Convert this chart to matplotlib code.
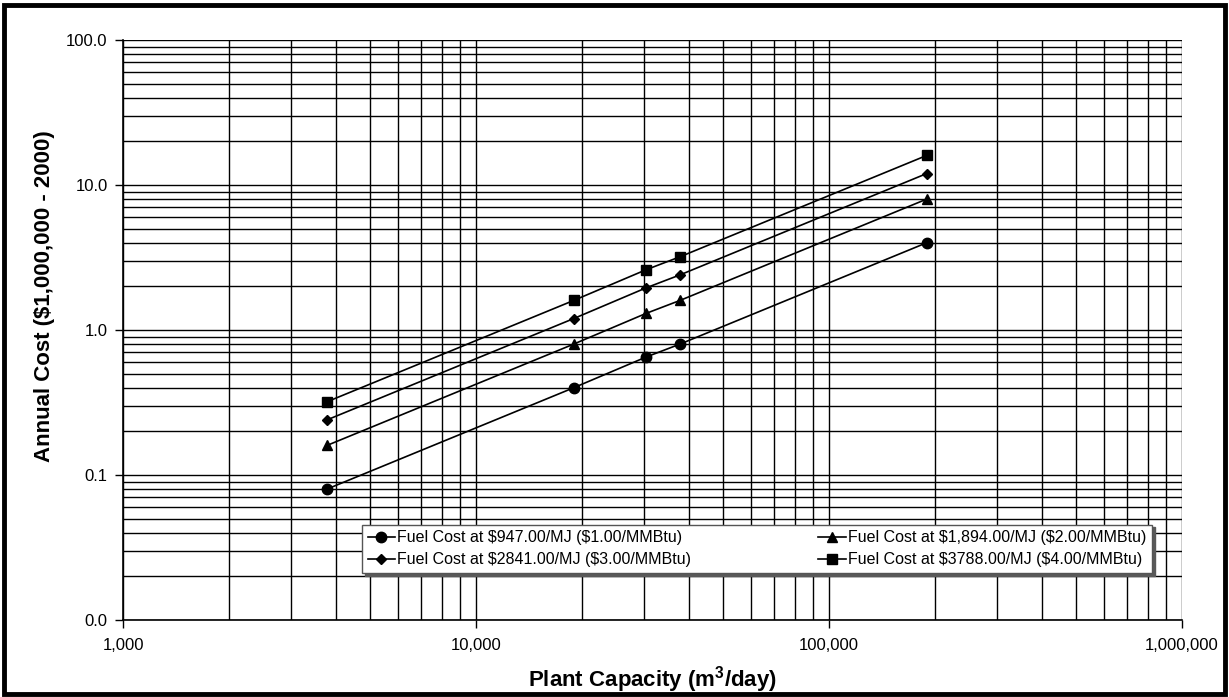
import numpy as np
import matplotlib.pyplot as plt
from matplotlib.patches import Rectangle
from matplotlib.ticker import FuncFormatter, LogLocator, NullFormatter

plt.rcParams['font.family'] = ['Liberation Sans', 'DejaVu Sans']
plt.rcParams['mathtext.fontset'] = 'custom'
plt.rcParams['mathtext.rm'] = 'Liberation Sans'
plt.rcParams['mathtext.bf'] = 'Liberation Sans:bold'

# plant capacity, m3/day (1, 5, 8, 10, 50 MGD)
capacity = [3785, 18927, 30283, 37854, 189271]

# annual cost, $ millions
cost_1 = [0.08, 0.40, 0.65, 0.80, 4.0]
cost_2 = [0.16, 0.80, 1.30, 1.60, 8.0]
cost_3 = [0.24, 1.20, 1.95, 2.40, 12.0]
cost_4 = [0.32, 1.60, 2.60, 3.20, 16.0]

labels = [r"Fuel Cost at \$947.00/MJ (\$1.00/MMBtu)",
          r"Fuel Cost at \$1,894.00/MJ (\$2.00/MMBtu)",
          r"Fuel Cost at \$2841.00/MJ (\$3.00/MMBtu)",
          r"Fuel Cost at \$3788.00/MJ (\$4.00/MMBtu)"]

fig = plt.figure(figsize=(12.29, 6.97), dpi=100)
ax = fig.add_axes([123 / 1229, 1 - 620 / 697, (1182 - 123) / 1229, 580 / 697])

h1, = ax.plot(capacity, cost_1, 'k-', marker='o', ms=7.5, lw=1.2)
h2, = ax.plot(capacity, cost_2, 'k-', marker='^', ms=7, lw=1.2)
h3, = ax.plot(capacity, cost_3, 'k-', marker='D', ms=5, lw=1.2)
h4, = ax.plot(capacity, cost_4, 'k-', marker='s', ms=7, lw=1.2)

ax.set_xscale('log')
ax.set_yscale('log')
ax.set_xlim(1000, 1000000)
ax.set_ylim(0.01, 100)

ax.xaxis.set_major_locator(LogLocator(base=10))
ax.yaxis.set_major_locator(LogLocator(base=10))
ax.xaxis.set_minor_locator(LogLocator(base=10, subs=np.arange(2, 10)))
ax.yaxis.set_minor_locator(LogLocator(base=10, subs=np.arange(2, 10)))
ax.xaxis.set_minor_formatter(NullFormatter())
ax.yaxis.set_minor_formatter(NullFormatter())
ax.xaxis.set_major_formatter(FuncFormatter(lambda v, p: f"{v:,.0f}"))
ax.yaxis.set_major_formatter(FuncFormatter(lambda v, p: f"{v:.1f}"))

ax.grid(True, which='both', color='black', lw=1.0)
ax.set_axisbelow(True)
ax.tick_params(which='minor', length=0)
ax.tick_params(which='major', length=6, width=1, labelsize=12, color='black')
ax.tick_params(axis='x', which='major', pad=7)
ax.tick_params(axis='y', which='major', pad=5)

for s in ['top', 'right']:
    ax.spines[s].set_visible(False)
for s in ['left', 'bottom']:
    ax.spines[s].set_linewidth(1.2)

ax.set_xlabel(r"Plant Capacity (m$^{\mathbf{3}}$/day)", fontsize=16, fontweight='bold', labelpad=8)
ax.set_ylabel(r"Annual Cost (\$1,000,000 - 2000)", fontsize=16, fontweight='bold')
ax.yaxis.set_label_coords(-0.064, 0.559)

# legend box spans roughly x 362..1152 px, y 519..573 px
lx0 = (362 - 123) / 1059
lw_ = (1152 - 362) / 1059
ly0 = (620 - 573) / 580
lh = (573 - 519) / 580
leg = ax.legend([h1, h3, h2, h4], [labels[0], labels[2], labels[1], labels[3]],
                ncol=2, loc='lower left', mode='expand',
                bbox_to_anchor=(lx0, ly0, lw_, lh), borderaxespad=0,
                fontsize=11.5, fancybox=False, framealpha=1, edgecolor='#555555',
                handlelength=1.7, handletextpad=0.15, borderpad=0.35,
                labelspacing=0.45, shadow={'color': '0.35', 'alpha': 1})
leg.get_frame().set_linewidth(1.0)

fig.patches.append(Rectangle((0.003, 0.005), 0.994, 0.988, transform=fig.transFigure,
                             fill=False, edgecolor='black', lw=3.5))

fig.savefig('out.png', dpi=100)
